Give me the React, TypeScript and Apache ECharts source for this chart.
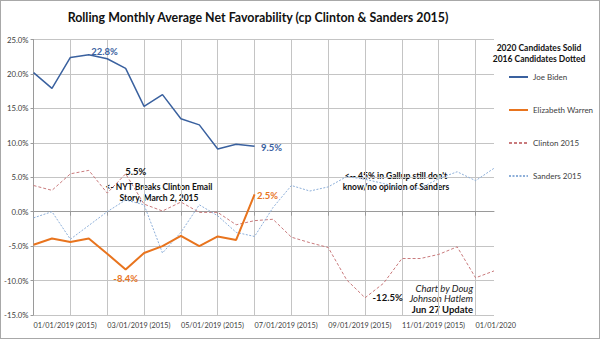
import React, { useEffect, useRef } from 'react';
import * as echarts from 'echarts';

const categories = [
  '01/01/2019 (2015)', '01/15/2019 (2015)', '02/01/2019 (2015)', '02/15/2019 (2015)',
  '03/01/2019 (2015)', '03/15/2019 (2015)', '04/01/2019 (2015)', '04/15/2019 (2015)',
  '05/01/2019 (2015)', '05/15/2019 (2015)', '06/01/2019 (2015)', '06/15/2019 (2015)',
  '07/01/2019 (2015)', '07/15/2019 (2015)', '08/01/2019 (2015)', '08/15/2019 (2015)',
  '09/01/2019 (2015)', '09/15/2019 (2015)', '10/01/2019 (2015)', '10/15/2019 (2015)',
  '11/01/2019 (2015)', '11/15/2019 (2015)', '12/01/2019 (2015)', '12/15/2019 (2015)',
  '01/01/2020', '01/15/2020',
];

const biden = [20.2, 17.9, 22.4, 22.8, 22.2, 20.8, 15.3, 17.0, 13.5, 12.6, 9.1, 9.8, 9.5];
const warren = [-4.8, -3.9, -4.4, -3.9, -6.1, -8.4, -6.0, -5.0, -3.5, -5.0, -3.6, -4.1, 2.5];
const clinton = [3.8, 3.1, 5.5, 6.0, 2.7, 5.5, 1.1, 0.1, 1.4, -0.1, -0.1, -1.9, -1.3, -1.1, -3.7, -4.5, -5.2, -9.9, -12.5, -10.4, -6.8, -6.8, -6.2, -5.1, -9.6, -8.6];
const sanders = [-0.9, 0.0, -4.0, -2.0, 0.0, 1.7, 1.0, -6.0, -3.0, 1.0, -0.6, -3.0, -3.6, 0.6, 3.8, 3.0, 3.6, 5.1, 4.7, 4.1, 3.4, 3.4, 4.8, 5.8, 4.5, 6.3];

const yMin = -15;
const yMax = 25;
const yStep = 5;

const C_BIDEN = '#3A619F';
const C_WARREN = '#E8741E';
const C_CLINTON = '#C97A7C';
const C_SANDERS = '#8DAFD9';
const FONT = 'Lato, "Open Sans", sans-serif';

type LabelSpec = { idx: number; position: string; offset?: number[]; distance?: number; color: string };

function withLabels(values: number[], specs: LabelSpec[]) {
  return values.map((v, i) => {
    const s = specs.find((x) => x.idx === i);
    if (!s) return v;
    return {
      value: v,
      symbol: 'circle',
      symbolSize: 1,
      itemStyle: { color: 'rgba(0,0,0,0)' },
      label: {
        show: true,
        position: s.position,
        offset: s.offset || [0, 0],
        distance: s.distance ?? 5,
        formatter: (p: any) => p.value.toFixed(1) + '%',
        color: s.color,
        fontFamily: FONT,
        fontSize: 9.5,
        fontWeight: 'bold',
      },
    };
  });
}

export default function App() {
  const ref = useRef<HTMLDivElement>(null);
  useEffect(() => {
    if (!ref.current) return;
    const chart = echarts.init(ref.current, undefined, { renderer: 'svg' });
    const baseSeries = {
      type: 'line',
      symbol: 'none',
      showSymbol: true,
      connectNulls: false,
    };
    chart.setOption({
      animation: false,
      backgroundColor: '#ffffff',
      textStyle: { fontFamily: FONT },
      grid: { left: 29, right: 105, top: 38.5, bottom: 23, containLabel: false },
      legend: {
        orient: 'vertical',
        left: 502,
        top: 67,
        itemGap: 25,
        itemWidth: 19,
        itemHeight: 10,
        itemStyle: { opacity: 0 },
        textStyle: { fontSize: 8, color: '#404040', fontFamily: FONT },
        data: ['Joe Biden', 'Elizabeth Warren', 'Clinton 2015', 'Sanders 2015'],
      },
      xAxis: {
        type: 'category',
        data: categories,
        boundaryGap: false,
        axisLine: { show: true, lineStyle: { color: '#9A9A9A', width: 1 } },
        axisTick: { show: true, length: 4, interval: (i: number) => i % 2 === 0, lineStyle: { color: '#9A9A9A' } },
        axisLabel: {
          interval: (i: number) => i % 4 === 0,
          align: 'left',
          margin: 7,
          fontSize: 7.3,
          color: '#404040',
          fontFamily: FONT,
        },
        splitLine: { show: true, interval: (i: number) => i % 2 === 0, lineStyle: { color: '#C4C4C4', width: 1 } },
      },
      yAxis: {
        type: 'value',
        min: yMin,
        max: yMax,
        interval: yStep,
        axisLine: { show: true, lineStyle: { color: '#9A9A9A', width: 1 } },
        axisTick: { show: true, length: 3, lineStyle: { color: '#9A9A9A' } },
        axisLabel: {
          formatter: (v: number) => v.toFixed(1) + '%',
          fontSize: 7.8,
          color: '#404040',
          margin: 5,
          fontFamily: FONT,
        },
        splitLine: { show: true, lineStyle: { color: '#C4C4C4', width: 1 } },
      },
      series: [
        {
          ...baseSeries,
          name: 'Clinton 2015',
          z: 2,
          lineStyle: { color: C_CLINTON, width: 1, type: [3, 2] },
          itemStyle: { color: C_CLINTON },
          data: withLabels(clinton, [
            { idx: 5, position: 'right', offset: [-6, -2], color: '#111111' },
            { idx: 18, position: 'right', distance: 7, color: '#111111' },
          ]),
        },
        {
          ...baseSeries,
          name: 'Sanders 2015',
          z: 2,
          lineStyle: { color: C_SANDERS, width: 1, type: [2, 1.5] },
          itemStyle: { color: C_SANDERS },
          data: sanders,
        },
        {
          ...baseSeries,
          name: 'Joe Biden',
          z: 3,
          lineStyle: { color: C_BIDEN, width: 1.5 },
          itemStyle: { color: C_BIDEN },
          data: withLabels(biden, [
            { idx: 3, position: 'right', offset: [-3, -3], color: C_BIDEN },
            { idx: 12, position: 'right', offset: [1, 1], color: C_BIDEN },
          ]),
        },
        {
          ...baseSeries,
          name: 'Elizabeth Warren',
          z: 3,
          lineStyle: { color: C_WARREN, width: 2 },
          itemStyle: { color: C_WARREN },
          data: withLabels(warren, [
            { idx: 5, position: 'bottom', distance: 3, color: C_WARREN },
            { idx: 12, position: 'right', offset: [-3, 1], color: C_WARREN },
          ]),
        },
      ],
      graphic: [
        {
          type: 'text',
          x: 257,
          y: 16,
          style: {
            text: 'Rolling Monthly Average Net Favorability (cp Clinton & Sanders 2015)',
            font: 'bold 12.4px ' + FONT,
            fill: '#111111',
            align: 'center',
            verticalAlign: 'middle',
          },
        },
        {
          type: 'text',
          x: 538,
          y: 52,
          style: {
            text: '2020 Candidates Solid\n2016 Candidates Dotted',
            font: 'bold 8.5px ' + FONT,
            fill: '#111111',
            align: 'center',
            verticalAlign: 'middle',
            lineHeight: 11,
          },
        },
        {
          type: 'text',
          x: 158,
          y: 191.5,
          style: {
            text: '<- NYT Breaks Clinton Email\nStory, March 2, 2015',
            font: 'bold 8.5px ' + FONT,
            fill: '#111111',
            align: 'center',
            verticalAlign: 'middle',
            lineHeight: 11,
          },
        },
        {
          type: 'text',
          x: 395,
          y: 180,
          style: {
            text: "<-- 45% in Gallup still don't\nknow/no opinion of Sanders",
            font: 'bold 8.5px ' + FONT,
            fill: '#111111',
            align: 'center',
            verticalAlign: 'middle',
            lineHeight: 11,
          },
        },
        {
          type: 'text',
          x: 472,
          y: 287,
          style: {
            text: 'Chart by Doug',
            font: 'italic 9.5px ' + FONT,
            fill: '#222222',
            align: 'right',
            verticalAlign: 'middle',
          },
        },
        {
          type: 'text',
          x: 472,
          y: 297.5,
          style: {
            text: 'Johnson Hatlem',
            font: 'italic 9.5px ' + FONT,
            fill: '#222222',
            align: 'right',
            verticalAlign: 'middle',
          },
        },
        {
          type: 'text',
          x: 472,
          y: 308,
          style: {
            text: 'Jun 27 Update',
            font: 'bold 9.5px ' + FONT,
            fill: '#111111',
            align: 'right',
            verticalAlign: 'middle',
          },
        },
      ],
    });
    return () => chart.dispose();
  }, []);

  return (
    <div
      style={{
        position: 'absolute',
        left: 0,
        top: 0,
        width: 600,
        height: 339,
        boxSizing: 'border-box',
        border: '1px solid #A8A8A8',
        background: '#fff',
      }}
    >
      <div ref={ref} style={{ width: 598, height: 337 }} />
    </div>
  );
}
